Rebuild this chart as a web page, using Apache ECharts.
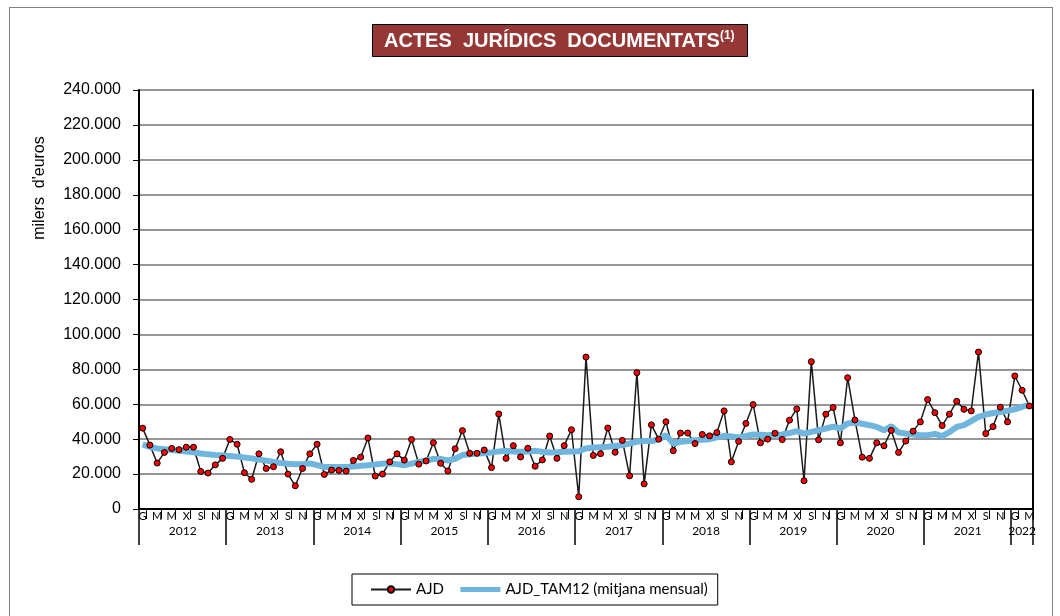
<!DOCTYPE html>
<html>
<head>
<meta charset="utf-8">
<script src="https://cdn.jsdelivr.net/npm/echarts@6/dist/echarts.min.js"></script>
<style>
body{margin:0;background:#fff;}
#frame{position:absolute;left:9px;top:7px;width:1042px;height:620px;border:1px solid #808080;}
#main{position:absolute;left:0;top:0;width:1060px;height:616px;}
</style>
</head>
<body>
<div id="frame"></div>
<div id="main"></div>
<script>
// dades: milers d'euros, gener 2012 - març 2022
var years = ['2012','2013','2014','2015','2016','2017','2018','2019','2020','2021','2022'];
var months = ['G','F','M','A','M','J','X','A','S','O','N','D'];

var ajd = [46300, 36600, 26300, 32400, 34700, 34000, 35400, 35400, 21500, 20600, 25300, 29000,
  39800, 37100, 20800, 17000, 31600, 23200, 24200, 32800, 20000, 13300, 23200, 31600,
  37100, 19800, 22300, 22100, 21700, 27800, 29700, 40700, 18900, 20000, 27000, 31600,
  28000, 39800, 25700, 27500, 38000, 26200, 21800, 34500, 44900, 31900, 31900, 33800,
  23700, 54400, 29000, 36300, 29800, 34800, 24500, 28100, 41800, 29000, 36300, 45400,
  7000, 87000, 30700, 31700, 46400, 32500, 39300, 19000, 78100, 14400, 48200, 40000,
  50000, 33400, 43500, 43500, 37500, 42700, 41900, 43800, 56200, 27000, 38700, 49000,
  59800, 37900, 40000, 43400, 39800, 50900, 57300, 16200, 84400, 39600, 54300, 58100,
  37900, 75200, 51000, 29700, 29000, 37900, 36200, 45000, 32400, 38900, 44600, 49900,
  62700, 55200, 47800, 54300, 61700, 57100, 56200, 89900, 43200, 47200, 58300, 49900,
  76200, 68000, 59000];

var tam12 = [37000, 35500, 34700, 34200, 33800, 33300, 32900, 32500, 31800, 31300, 30900, 30600,
  30300, 30000, 29500, 29000, 28400, 27700, 27000, 26400, 25900, 25700, 25700, 26100,
  25100, 24000, 24000, 24000, 24000, 24300, 24700, 25100, 25500, 26000, 26100, 25700,
  25100, 26000, 27000, 27800, 28600, 28600, 27800, 28800, 30900, 31300, 31800, 32000,
  32400, 33000, 33300, 33000, 32800, 33000, 33300, 32800, 32400, 32500, 32800, 33000,
  33100, 34700, 35200, 35400, 35600, 36100, 36600, 37500, 38500, 38900, 38900, 39800,
  42300, 37500, 38500, 39000, 39400, 39700, 40000, 41000, 41900, 41500, 41000, 41800,
  42700, 42500, 42300, 42500, 42700, 43500, 44600, 43200, 44200, 45200, 46100, 47200,
  46100, 49000, 49500, 48800, 48000, 47000, 45100, 47400, 43800, 43200, 42700, 42300,
  42300, 43000, 41700, 44000, 47000, 48000, 50300, 52800, 54100, 55000, 55600, 56300,
  57100, 58500, 59800];

// categories "mes any"
var cats = [];
for (var y = 0; y < years.length; y++) {
  for (var m = 0; m < months.length; m++) {
    if (cats.length < ajd.length) cats.push(months[m] + ' ' + years[y]);
  }
}

function milers(v) {
  return String(v).replace(/\B(?=(\d{3})+(?!\d))/g, '.');
}

var myChart = echarts.init(document.getElementById('main'));

var option = {
  animation: false,
  title: {
    text: '{a|ACTES  JURÍDICS  DOCUMENTATS}{b|(1)}',
    left: 372,
    top: 24,
    padding: [6, 13, 6, 12],
    backgroundColor: '#953735',
    borderColor: '#000',
    borderWidth: 1,
    textStyle: {
      rich: {
        a: { fontFamily: 'Liberation Sans', fontSize: 20, fontWeight: 'bold', color: '#fff', lineHeight: 22 },
        b: { fontFamily: 'Liberation Sans', fontSize: 12, fontWeight: 'bold', color: '#fff', lineHeight: 22, verticalAlign: 'top' }
      }
    }
  },
  legend: {
    left: 352,
    top: 574,
    padding: [8, 10, 8, 18],
    backgroundColor: '#fff',
    borderColor: '#000',
    borderWidth: 1,
    itemGap: 14,
    itemWidth: 40,
    itemHeight: 8,
    textStyle: { fontFamily: 'Lato', fontSize: 15, color: '#000' },
    data: [
      { name: 'AJD' },
      { name: 'AJD_TAM12 (mitjana mensual)', itemStyle: { opacity: 0 }, lineStyle: { width: 5 } }
    ]
  },
  graphic: [{
    type: 'text',
    x: 40,
    y: 188,
    rotation: Math.PI / 2,
    style: {
      text: "milers  d'euros",
      fontFamily: 'Liberation Sans',
      fontSize: 16,
      fill: '#000',
      align: 'center',
      verticalAlign: 'middle'
    }
  }],
  grid: { left: 139, right: 27, top: 90, bottom: 107, show: false },
  xAxis: [{
    type: 'category',
    data: cats,
    boundaryGap: true,
    axisLine: { lineStyle: { color: '#000', width: 2 } },
    axisTick: {
      show: true,
      length: 10,
      interval: function (i) { return i % 2 === 1; },
      lineStyle: { color: '#000', width: 1 }
    },
    axisLabel: {
      interval: 1,
      margin: 2,
      fontFamily: 'Lato',
      fontSize: 11,
      color: '#000',
      formatter: function (v) { return v.split(' ')[0]; }
    }
  }, {
    type: 'category',
    data: cats,
    position: 'bottom',
    boundaryGap: true,
    axisLine: { show: false },
    axisTick: {
      show: true,
      length: 36,
      interval: function (i) { return i % 12 === 0; },
      lineStyle: { color: '#000', width: 1.5 }
    },
    axisLabel: {
      interval: function (i) { return i % 12 === 6 || i === 121; },
      margin: 16,
      fontFamily: 'Lato',
      fontSize: 12,
      color: '#000',
      formatter: function (v, i) {
        var yr = v.split(' ')[1];
        return i === 121 ? '{z|' + yr + '}' : '{y|' + yr + '}';
      },
      rich: {
        y: { fontFamily: 'Lato', fontSize: 12, color: '#000', padding: [0, 7, 0, 0] },
        z: { fontFamily: 'Lato', fontSize: 12, color: '#000' }
      }
    }
  }],
  yAxis: [{
    type: 'value',
    min: 0,
    max: 240000,
    interval: 20000,
    axisLine: { show: true, lineStyle: { color: '#000', width: 2 } },
    axisTick: { show: true, length: 6, lineStyle: { color: '#000' } },
    axisLabel: {
      margin: 18,
      fontFamily: 'Liberation Sans',
      fontSize: 16,
      color: '#000',
      formatter: milers
    },
    splitLine: { lineStyle: { color: '#969696', width: 2 } }
  }, {
    type: 'value',
    position: 'right',
    min: 0,
    max: 240000,
    interval: 20000,
    axisLine: { show: true, lineStyle: { color: '#000', width: 2 } },
    axisTick: { show: false },
    axisLabel: { show: false },
    splitLine: { show: false }
  }],
  series: [{
    name: 'AJD',
    type: 'line',
    data: ajd,
    symbol: 'circle',
    symbolSize: 6,
    showAllSymbol: true,
    lineStyle: { color: '#1a1a1a', width: 1.5 },
    itemStyle: { color: '#ff0000', borderColor: '#000', borderWidth: 1 }
  }, {
    name: 'AJD_TAM12 (mitjana mensual)',
    type: 'line',
    data: tam12,
    showSymbol: false,
    symbol: 'none',
    lineStyle: { color: '#6fb5de', width: 6 },
    itemStyle: { color: '#6fb5de' }
  }]
};

myChart.setOption(option);
</script>
</body>
</html>
